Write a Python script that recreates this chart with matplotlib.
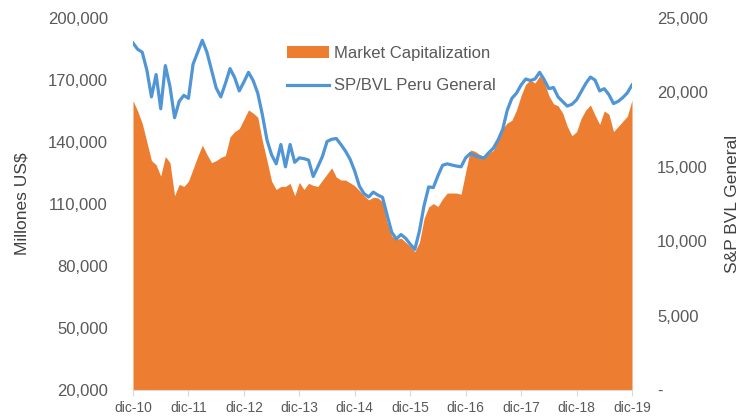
import matplotlib.pyplot as plt
import numpy as np

# Monthly data, dic-10 .. dic-19
market_cap = [
    160000, 155000, 149000, 140000, 131000, 129000, 123500, 133000, 130000, 114000,
    119500, 118500, 121000, 127000, 133000, 138500, 134000, 130000, 131000, 132500,
    133500, 142500, 145000, 146500, 151000, 155500, 154000, 152000, 140500, 131000,
    121000, 117000, 118500, 118500, 120000, 114000, 120500, 117000, 120000, 119000,
    118500, 121500, 124500, 127500, 123000, 121600, 121600, 120200, 118800, 116500,
    114000, 112000, 113200, 113000, 111000, 101000, 94500, 92800, 93500, 91500,
    89500, 86900, 91500, 103000, 108600, 110200, 108800, 112500, 115300, 115300,
    115300, 114700, 125500, 136100, 135500, 134000, 133000, 134500, 136000, 141000,
    146500, 149200, 150500, 155500, 162500, 168000, 170000, 168500, 172000, 169000,
    162500, 158500, 157500, 154000, 147500, 143000, 145000, 151500, 155500, 157900,
    153000, 148500, 155000, 153500, 145000, 147500, 150000, 152500, 160300,
]
sp_bvl = [
    23320, 22900, 22700, 21500, 19700, 21200, 18900, 21800, 20400, 18300,
    19400, 19800, 19600, 21900, 22700, 23500, 22700, 21500, 20300, 19700,
    20600, 21600, 21000, 20100, 20700, 21350, 20800, 19950, 18500, 16800,
    15800, 15200, 16500, 15000, 16500, 15300, 15600, 15550, 15450, 14350,
    15000, 15700, 16700, 16850, 16900, 16500, 16050, 15500, 14700, 13700,
    13200, 12970, 13300, 13100, 12950, 11750, 10600, 10150, 10450, 10200,
    9800, 9450, 10700, 12400, 13650, 13600, 14400, 15100, 15200, 15120,
    15050, 15000, 15600, 15900, 15750, 15650, 15600, 15950, 16250, 16800,
    17500, 18800, 19600, 19950, 20500, 20900, 20800, 20900, 21350, 20850,
    20250, 20330, 19700, 19380, 19080, 19200, 19500, 20050, 20600, 21030,
    20830, 20100, 20250, 19850, 19250, 19400, 19650, 19970, 20500,
]
tick_labels = ["dic-10", "dic-11", "dic-12", "dic-13", "dic-14",
               "dic-15", "dic-16", "dic-17", "dic-18", "dic-19"]

plt.rcParams["font.family"] = ["Liberation Sans", "DejaVu Sans"]
orange = "#ED7D31"
blue = "#5095D5"
grey = "#595959"

months = np.arange(len(market_cap))

fig = plt.figure(figsize=(7.45, 4.19), dpi=100)
ax1 = fig.add_axes([133 / 745, 1 - 390 / 419, (632 - 133) / 745, (390 - 18) / 419])
ax2 = ax1.twinx()

ax1.fill_between(months, 20000, market_cap, color=orange, linewidth=0,
                 label="Market Capitalization")
ax2.plot(months, sp_bvl, color=blue, linewidth=2.3, label="SP/BVL Peru General")

ax1.set_xlim(0, len(market_cap) - 1)
ax1.set_ylim(20000, 200000)
ax2.set_ylim(0, 25000)

ax1.set_xticks(np.arange(0, len(market_cap), 12))
ax1.set_xticklabels(tick_labels)
ax1.set_yticks(np.arange(20000, 200001, 30000))
ax1.set_yticklabels([f"{v:,.0f}" for v in np.arange(20000, 200001, 30000)])
ax2.set_yticks(np.arange(0, 25001, 5000))
ax2.set_yticklabels(["-"] + [f"{v:,.0f}" for v in np.arange(5000, 25001, 5000)])

for ax in (ax1, ax2):
    for s in ax.spines.values():
        s.set_visible(False)
ax1.spines["bottom"].set_visible(True)
ax1.spines["bottom"].set_color("#d9d9d9")

ax1.tick_params(axis="x", colors="#d9d9d9", labelcolor=grey, labelsize=10,
                length=4, pad=4)
ax1.tick_params(axis="y", length=0, labelcolor=grey, labelsize=12, pad=18)
ax2.tick_params(axis="y", length=0, labelcolor=grey, labelsize=12, pad=18)

ax1.set_ylabel("Millones US$", fontsize=12.5, color="#404040", labelpad=13)
ax2.set_ylabel("S&P BVL General", fontsize=12.5, color="#404040", labelpad=12)

h1, l1 = ax1.get_legend_handles_labels()
h2, l2 = ax2.get_legend_handles_labels()
ax2.legend(h1 + h2, l1 + l2, loc="upper left", bbox_to_anchor=(272 / 745, 1 - 31 / 419),
           bbox_transform=fig.transFigure, frameon=False, fontsize=12,
           labelcolor=grey, handlelength=2.5, handletextpad=0.3, labelspacing=1.05)

fig.savefig("out.png", dpi=100)
